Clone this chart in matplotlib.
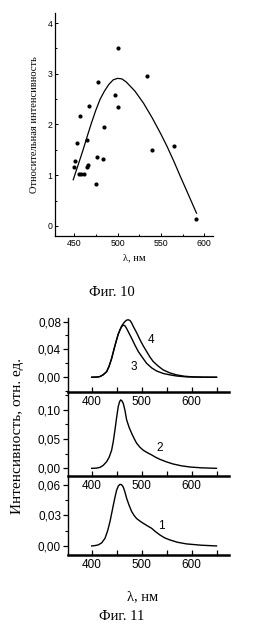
"""
Фиг. 10 и Фиг. 11 — relative intensity vs wavelength and emission spectra.
"""

import matplotlib
matplotlib.use("Agg")
import matplotlib.pyplot as plt
from matplotlib.ticker import MultipleLocator, FuncFormatter


# ── Фиг. 10 data ─────────────────────────────────────────────────────────────

scatter_wl = [450, 451.2, 453, 457.3, 456, 458.5, 461, 464.6, 465.4, 466.5,
              467.3, 475, 477, 476.5, 483.8, 485, 497.3, 500, 500.8, 533.5,
              539.2, 564.6, 590]
scatter_int = [1.17, 1.27, 1.63, 2.17, 1.02, 1.02, 1.02, 1.70, 1.17, 1.21,
               2.36, 0.82, 2.84, 1.35, 1.32, 1.96, 2.59, 3.51, 2.34, 2.96,
               1.50, 1.57, 0.14]

fit_wl = [449, 455, 460, 465, 470, 475, 480, 485, 490, 495, 500, 505, 510,
          520, 530, 540, 550, 557, 565, 572, 580, 591]
fit_int = [0.91, 1.22, 1.48, 1.76, 2.03, 2.28, 2.50, 2.66, 2.79, 2.88, 2.91,
           2.90, 2.84, 2.66, 2.42, 2.13, 1.81, 1.57, 1.27, 0.99, 0.68, 0.25]

# ── Фиг. 11 data ─────────────────────────────────────────────────────────────

wl3 = [400, 410, 416.7, 423, 430, 435, 440, 445, 450, 453.3, 456.7, 460,
       463.3, 466.7, 470, 475, 480, 486.7, 493.3, 500, 510, 520, 530, 543,
       556.7, 570, 590, 620, 650]
sp3 = [0.0, 0.0003, 0.001, 0.0035, 0.008, 0.016, 0.027, 0.041, 0.054,
       0.062, 0.068, 0.0725, 0.075, 0.0738, 0.070, 0.063, 0.056, 0.046,
       0.037, 0.030, 0.020, 0.0135, 0.009, 0.0055, 0.0034, 0.0018, 0.0005,
       0.0001, 0.0]

wl4 = [400, 410, 416.7, 423, 430, 435, 440, 445, 450, 453.3, 456.7, 460,
       463.3, 466.7, 470, 473.3, 476.7, 480, 483.3, 490, 496.7, 503.3, 510,
       516.7, 523.3, 533.3, 543.3, 556.7, 570, 585, 603, 625, 650]
sp4 = [0.0, 0.0003, 0.001, 0.0035, 0.008, 0.016, 0.027, 0.041, 0.054,
       0.062, 0.068, 0.0735, 0.077, 0.080, 0.082, 0.0825, 0.0815, 0.078,
       0.073, 0.064, 0.054, 0.045, 0.037, 0.029, 0.0225, 0.016, 0.0105,
       0.0062, 0.0034, 0.0015, 0.0005, 0.0001, 0.0]

wl2 = [400, 410, 416.7, 423, 430, 435, 440, 443.3, 446.7, 450, 453.3, 456,
       458, 460.5, 463.3, 466.7, 470, 475, 480, 485, 490, 496.7, 503.3, 511,
       520, 528, 536.7, 550, 563.3, 580, 596.7, 620, 650]
sp2 = [0.0, 0.0004, 0.0017, 0.005, 0.0114, 0.019, 0.031, 0.046, 0.066,
       0.087, 0.106, 0.114, 0.117, 0.1155, 0.111, 0.099, 0.083, 0.070,
       0.060, 0.051, 0.043, 0.036, 0.031, 0.027, 0.023, 0.019, 0.0154,
       0.011, 0.0074, 0.0043, 0.0023, 0.0009, 0.0]

wl1 = [400, 406, 413, 420, 426.7, 432, 436.7, 440, 443.3, 446.7, 450, 453.3,
       456.7, 460, 463.3, 466.7, 470, 475, 480, 485, 490, 496.7, 503.3, 511,
       520, 528, 536.7, 546, 556.7, 572, 590, 620, 650]
sp1 = [0.0, 0.0003, 0.001, 0.003, 0.0075, 0.015, 0.024, 0.032, 0.040,
       0.048, 0.055, 0.059, 0.0607, 0.0603, 0.058, 0.053, 0.047, 0.040,
       0.034, 0.030, 0.027, 0.0245, 0.0223, 0.020, 0.0174, 0.014, 0.0108,
       0.008, 0.0059, 0.0036, 0.002, 0.0007, 0.0]

SANS = ["Liberation Sans", "DejaVu Sans"]
SERIF = ["Liberation Serif", "DejaVu Serif"]

fig = plt.figure(figsize=(2.61, 6.43), dpi=100)


# ── Фиг. 10 ──────────────────────────────────────────────────────────────────

ax = fig.add_axes([0.2107, 0.633, 0.6054, 0.3468])
ax.plot(fit_wl, fit_int, color="black", lw=0.9)
ax.plot(scatter_wl, scatter_int, "o", color="black", ms=3.0, mec="none")
ax.set_xlim(428, 610)
ax.set_ylim(-0.2, 4.2)
for side in ("top", "right"):
    ax.spines[side].set_visible(False)
ax.spines["left"].set_linewidth(0.9)
ax.spines["bottom"].set_linewidth(0.9)
ax.xaxis.set_major_locator(MultipleLocator(50))
ax.xaxis.set_minor_locator(MultipleLocator(25))
ax.yaxis.set_major_locator(MultipleLocator(1))
ax.yaxis.set_minor_locator(MultipleLocator(0.5))
ax.tick_params(which="both", direction="in", width=0.7, labelsize=6.3, pad=2)
ax.tick_params(which="major", length=2.5)
ax.tick_params(which="minor", length=1.5)
for lab in ax.get_xticklabels() + ax.get_yticklabels():
    lab.set_family(SANS)
ax.set_xlabel("λ, нм", family=SERIF, fontsize=7.5, labelpad=4)
ax.set_ylabel("Относительная интенсивность", family=SERIF, fontsize=7.5,
              labelpad=6)

fig.text(0.43, 1 - 293 / 643, "Фиг. 10", family=SERIF, fontsize=10.5,
         ha="center", va="center")


# ── Фиг. 11 ──────────────────────────────────────────────────────────────────

comma = FuncFormatter(lambda v, p: f"{v:.2f}".replace(".", ","))

panels = [
    # (rect, ylim, major, minor, curves, labels)
    ([0.2605, 0.3899, 0.6169, 0.1155], (-0.0216, 0.085), 0.04, 0.02,
     [(wl3, sp3), (wl4, sp4)], [("3", 484.7, 0.0153), ("4", 518, 0.0537)]),
    ([0.2605, 0.2597, 0.6169, 0.1302], (-0.0131, 0.130), 0.05, 0.025,
     [(wl2, sp2)], [("2", 536.7, 0.034)]),
    ([0.2605, 0.1369, 0.6169, 0.1228], (-0.0089, 0.0689), 0.03, 0.015,
     [(wl1, sp1)], [("1", 540, 0.020)]),
]

for rect, ylim, major, minor, curves, labels in panels:
    a = fig.add_axes(rect)
    a.patch.set_alpha(0)
    for x, y in curves:
        a.plot(x, y, color="black", lw=1.0)
    for txt, x, y in labels:
        a.text(x, y, txt, family=SANS, fontsize=8.5, ha="center", va="center")
    a.set_xlim(352.6, 675)
    a.set_ylim(*ylim)
    for side in ("top", "right"):
        a.spines[side].set_visible(False)
    a.spines["bottom"].set_linewidth(1.8)
    a.spines["left"].set_linewidth(1.0)
    a.xaxis.set_major_locator(MultipleLocator(100))
    a.xaxis.set_minor_locator(MultipleLocator(50))
    a.yaxis.set_major_locator(MultipleLocator(major))
    a.yaxis.set_minor_locator(MultipleLocator(minor))
    a.yaxis.set_major_formatter(comma)
    a.set_xticks([400, 500, 600])
    a.tick_params(axis="x", which="both", direction="in", length=3.5,
                  width=0.9, labelsize=8.5, pad=3)
    a.tick_params(axis="y", which="major", direction="out", length=3.5,
                  width=0.9, labelsize=8.5, pad=1.5)
    a.tick_params(axis="y", which="minor", direction="out", length=2,
                  width=0.8)
    for lab in a.get_xticklabels() + a.get_yticklabels():
        lab.set_family(SANS)
    # keep ticks inside the data range
    a.set_yticks([t for t in a.get_yticks() if 0 <= t <= ylim[1] + 1e-9])

fig.text(18 / 261, 1 - 436 / 643, "Интенсивность, отн. ед.", family=SERIF,
         fontsize=11, rotation=90, ha="center", va="center")
fig.text(143 / 261, 1 - 597 / 643, "λ, нм", family=SERIF, fontsize=10.5,
         ha="center", va="center")
fig.text(122 / 261, 1 - 617 / 643, "Фиг. 11", family=SERIF, fontsize=10.5,
         ha="center", va="center")

fig.savefig("out.png", dpi=100)
